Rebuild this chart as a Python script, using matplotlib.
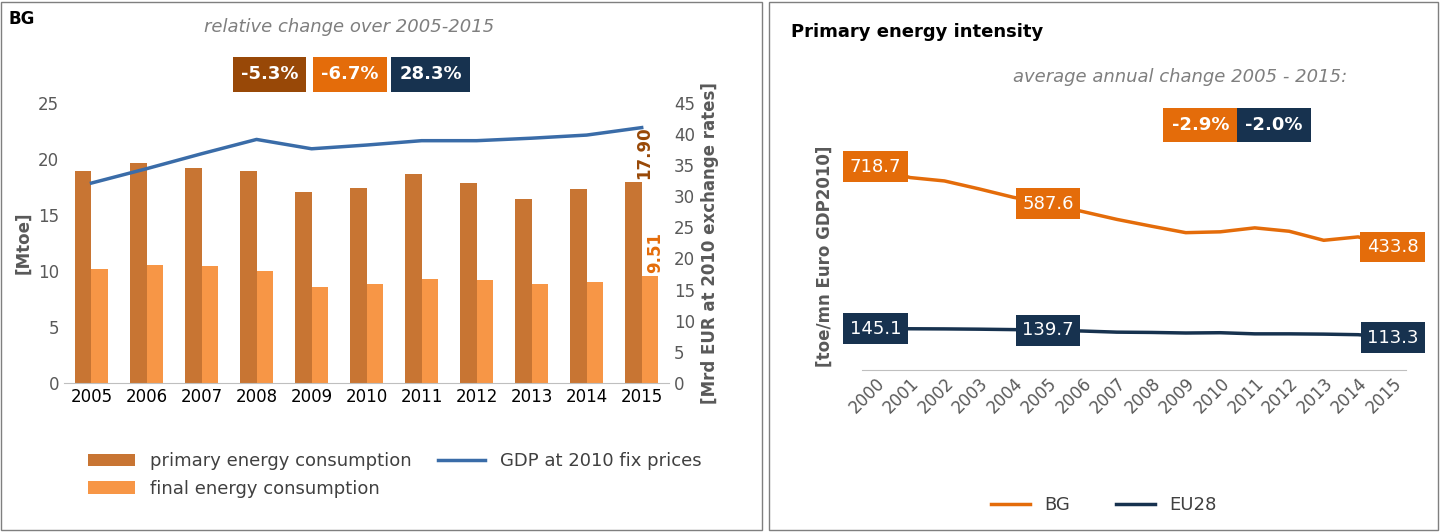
import matplotlib.pyplot as plt
import numpy as np

years = [2005,2006,2007,2008,2009,2010,2011,2012,2013,2014,2015]
primary = [18.9,19.6,19.2,18.9,17.0,17.4,18.6,17.8,16.4,17.3,17.90]
final = [10.2,10.5,10.4,10.0,8.6,8.8,9.3,9.2,8.8,9.0,9.51]
gdp = [32.1,34.4,36.8,39.1,37.6,38.2,38.9,38.9,39.3,39.8,41.0]
changes = ["-5.3%","-6.7%","28.3%"]

yrs2 = list(range(2000,2016))
bg = [718.7,680,668,640,610,587.6,560,532,508,485,488,502,490,458,470,433.8]
eu = [145.1,145,144.5,143.5,142,139.7,137,133,132,130,131,127,127,126,124,113.3]
avg = ["-2.9%","-2.0%"]

C_P="#C87533"; C_F="#F79646"; C_G="#3A6CA8"; C_BG="#E46C0A"; C_EU="#17324F"; C_DB="#984807"
gray="#595959"
fig = plt.figure(figsize=(14.41,5.32), dpi=100)
fig.patches.append(plt.Rectangle((0.001,0.004),0.528,0.992,transform=fig.transFigure,fill=False,ec="#7f7f7f",lw=1))
fig.patches.append(plt.Rectangle((0.534,0.004),0.464,0.992,transform=fig.transFigure,fill=False,ec="#7f7f7f",lw=1))

ax = fig.add_axes([0.0444,0.28,0.42,0.527])
x = np.arange(len(years))
ax.bar(x-0.15,primary,0.3,color=C_P,label="primary energy consumption")
ax.bar(x+0.15,final,0.3,color=C_F,label="final energy consumption")
ax.set_ylim(0,25); ax.set_xlim(-0.5,10.5)
ax.set_xticks(x); ax.set_xticklabels(years,fontsize=12)
ax.tick_params(axis='y',labelsize=12,colors=gray,length=0)
ax.tick_params(axis='x',length=0,labelcolor="black")
ax.set_ylabel("[Mtoe]",fontsize=12,fontweight='bold',color=gray)
for s in ['top','right','left']: ax.spines[s].set_visible(False)
ax.spines['bottom'].set_color("#bfbfbf")
ax2 = ax.twinx()
ax2.plot(x,gdp,color=C_G,lw=2.5,label="GDP at 2010 fix prices")
ax2.set_ylim(0,45); ax2.set_yticks(range(0,46,5))
ax2.tick_params(axis='y',labelsize=12,colors=gray,length=0)
ax2.set_ylabel("[Mrd EUR at 2010 exchange rates]",fontsize=12,fontweight='bold',color=gray)
for s in ax2.spines.values(): s.set_visible(False)
ax.text(x[-1]+0.05,primary[-1]+0.3,"17.90",rotation=90,color=C_DB,fontsize=12,fontweight='bold',ha='center',va='bottom')
ax.text(x[-1]+0.25,final[-1]+0.3,"9.51",rotation=90,color=C_BG,fontsize=12,fontweight='bold',ha='center',va='bottom')
fig.text(0.006,0.955,"BG",fontsize=12,fontweight='bold')
fig.text(0.242,0.94,"relative change over 2005-2015",fontsize=13,style='italic',color="#7f7f7f",ha='center')
for t,c,xx in zip(changes,[C_DB,C_BG,C_EU],[0.187,0.243,0.299]):
    fig.text(xx,0.86,t,fontsize=13,fontweight='bold',color='white',ha='center',va='center',
             bbox=dict(boxstyle='square,pad=0.45',fc=c,ec='none'))
h1,l1=ax.get_legend_handles_labels(); h2,l2=ax2.get_legend_handles_labels()
fig.legend(h1+h2,l1+l2,loc='upper left',bbox_to_anchor=(0.05,0.18),ncol=2,frameon=False,fontsize=13,
           columnspacing=1.5,handlelength=2.6,labelcolor="#404040")

bx = fig.add_axes([0.598,0.305,0.378,0.425])
bx.plot(yrs2,bg,color=C_BG,lw=2.5,label="BG")
bx.plot(yrs2,eu,color=C_EU,lw=2.5,label="EU28")
bx.set_ylim(0,800); bx.set_xlim(1999.6,2015.4)
bx.set_yticks([])
bx.set_xticks(yrs2); bx.set_xticklabels(yrs2,rotation=45,ha='right',rotation_mode='anchor',fontsize=12,color=gray)
bx.tick_params(axis='x',length=0)
for s in ['top','right','left']: bx.spines[s].set_visible(False)
bx.spines['bottom'].set_color("#bfbfbf")
bx.set_ylabel("[toe/mn Euro GDP2010]",fontsize=12,fontweight='bold',color=gray,labelpad=20)
for i in [0,5,15]:
    for arr,c in [(bg,C_BG),(eu,C_EU)]:
        bx.text(yrs2[i],arr[i],f"{arr[i]:.1f}",fontsize=13,color='white',ha='center',va='center',
                bbox=dict(boxstyle='square,pad=0.35',fc=c,ec='none'))
fig.text(0.549,0.93,"Primary energy intensity",fontsize=13,fontweight='bold')
fig.text(0.935,0.845,"average annual change 2005 - 2015:",fontsize=13,style='italic',color="#7f7f7f",ha='right')
for t,c,xx in zip(avg,[C_BG,C_EU],[0.833,0.884]):
    fig.text(xx,0.765,t,fontsize=13,fontweight='bold',color='white',ha='center',va='center',
             bbox=dict(boxstyle='square,pad=0.45',fc=c,ec='none'))
fig.legend(bx.get_legend_handles_labels()[0],["BG","EU28"],loc='center',bbox_to_anchor=(0.766,0.05),ncol=2,
           frameon=False,fontsize=13,handlelength=2.2,columnspacing=2.5,labelcolor="#404040")
fig.savefig("out.png",dpi=100)
